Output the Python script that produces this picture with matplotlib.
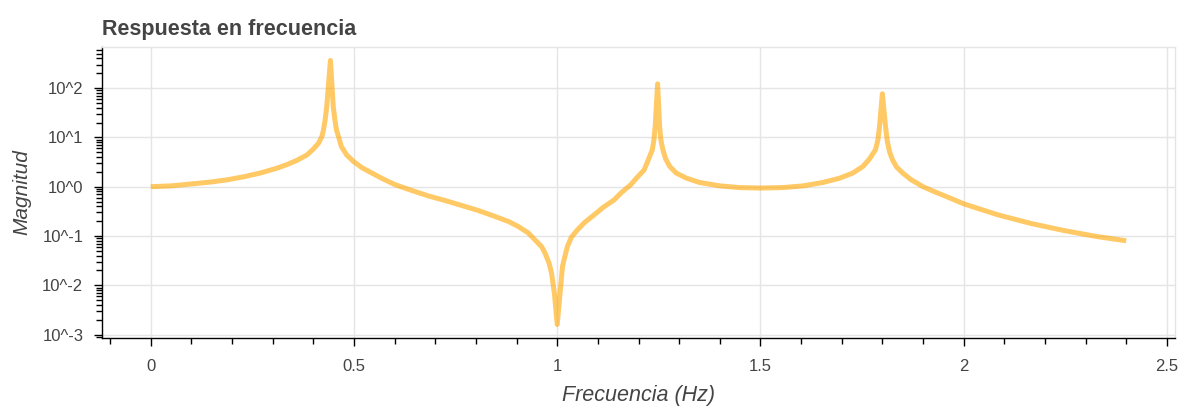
import numpy as np
import matplotlib
matplotlib.use("Agg")
import matplotlib.pyplot as plt
from matplotlib.ticker import LogLocator, MultipleLocator, FuncFormatter, NullFormatter

plt.rcParams['font.family'] = ['Liberation Sans', 'DejaVu Sans']

# Frequency response magnitude (Hz vs |H|)
freq = [0.000, 0.050, 0.106, 0.150, 0.188, 0.230, 0.269, 0.310, 0.334, 0.359,
        0.384, 0.400, 0.413, 0.421, 0.425, 0.429, 0.433, 0.442, 0.449, 0.453,
        0.457, 0.463, 0.469, 0.482, 0.499, 0.519, 0.544, 0.572, 0.601, 0.642,
        0.683, 0.724, 0.765, 0.806, 0.847, 0.880, 0.904, 0.929, 0.945, 0.962,
        0.970, 0.980, 0.986, 0.993, 1.000, 1.007, 1.013, 1.018, 1.025, 1.035,
        1.050, 1.068, 1.091, 1.113, 1.140, 1.158, 1.181, 1.195, 1.214, 1.224,
        1.234, 1.238, 1.241, 1.247, 1.252, 1.255, 1.260, 1.267, 1.277, 1.293,
        1.318, 1.350, 1.400, 1.448, 1.500, 1.555, 1.605, 1.654, 1.695, 1.727,
        1.752, 1.768, 1.783, 1.789, 1.793, 1.800, 1.808, 1.812, 1.818, 1.825,
        1.835, 1.850, 1.870, 1.900, 1.930, 1.960, 2.000, 2.084, 2.165, 2.247,
        2.329, 2.400]
mag = [1.00, 1.04, 1.15, 1.25, 1.38, 1.60, 1.89, 2.37, 2.79, 3.41,
       4.4, 5.8, 7.7, 10.4, 14.3, 22.7, 42.0, 365.0, 42.0, 22.7,
       14.0, 9.7, 6.5, 4.4, 3.24, 2.45, 1.89, 1.43, 1.10, 0.84,
       0.65, 0.525, 0.416, 0.329, 0.249, 0.197, 0.156, 0.115, 0.084, 0.060,
       0.045, 0.028, 0.0177, 0.0069, 0.0016, 0.0069, 0.024, 0.036, 0.061, 0.095,
       0.134, 0.19, 0.269, 0.38, 0.54, 0.76, 1.10, 1.49, 2.2, 3.5,
       5.6, 9.0, 16.6, 122.0, 16.6, 8.9, 5.6, 3.63, 2.57, 1.89,
       1.49, 1.22, 1.04, 0.96, 0.94, 0.96, 1.04, 1.22, 1.49, 1.89,
       2.57, 3.63, 5.6, 8.9, 16.6, 77.0, 16.0, 8.5, 5.0, 3.5,
       2.5, 1.9, 1.4, 1.0, 0.78, 0.62, 0.45, 0.269, 0.18, 0.129,
       0.097, 0.080]

text_color = '#444444'
grid_color = '#e5e5e5'

fig = plt.figure(figsize=(11.84, 4.08), dpi=100)
ax = fig.add_axes([102 / 1184, 1 - 338 / 408, (1175 - 102) / 1184, (338 - 47) / 408])

ax.plot(freq, mag, color='orange', alpha=0.6, lw=3.6,
        solid_capstyle='butt', solid_joinstyle='round')

ax.set_yscale('log')
ax.set_xlim(-0.12, 2.52)
ax.set_ylim(10 ** -3.07, 10 ** 2.835)

ax.xaxis.set_major_locator(MultipleLocator(0.5))
ax.xaxis.set_minor_locator(MultipleLocator(0.1))
ax.xaxis.set_major_formatter(FuncFormatter(lambda v, p: f"{v:g}"))
ax.yaxis.set_major_locator(LogLocator(base=10, numticks=20))
ax.yaxis.set_minor_locator(LogLocator(base=10, subs=np.arange(2, 10), numticks=20))
ax.yaxis.set_major_formatter(FuncFormatter(lambda v, p: f"10^{int(round(np.log10(v)))}"))
ax.yaxis.set_minor_formatter(NullFormatter())

ax.tick_params(which='major', direction='out', length=6, width=1.0,
               labelsize=12, labelcolor=text_color, color='black')
ax.tick_params(which='minor', direction='out', length=4, width=1.0, color='black')
ax.tick_params(axis='x', which='major', pad=9)
ax.tick_params(axis='y', which='major', pad=7.5)

ax.grid(which='major', color=grid_color, lw=1.0)
ax.set_axisbelow(True)

for side in ('left', 'bottom'):
    ax.spines[side].set_color('black')
    ax.spines[side].set_linewidth(1.0)
for side in ('top', 'right'):
    ax.spines[side].set_color(grid_color)
    ax.spines[side].set_linewidth(1.0)

ax.set_title("Respuesta en frecuencia", loc='left', fontsize=15.5,
             fontweight='bold', color=text_color, pad=9)
ax.set_xlabel("Frecuencia (Hz)", fontsize=15.5, style='italic',
              color=text_color, labelpad=8)
ax.set_ylabel("Magnitud", fontsize=15, style='italic',
              color=text_color, labelpad=8)

fig.savefig("out.png", dpi=100)
